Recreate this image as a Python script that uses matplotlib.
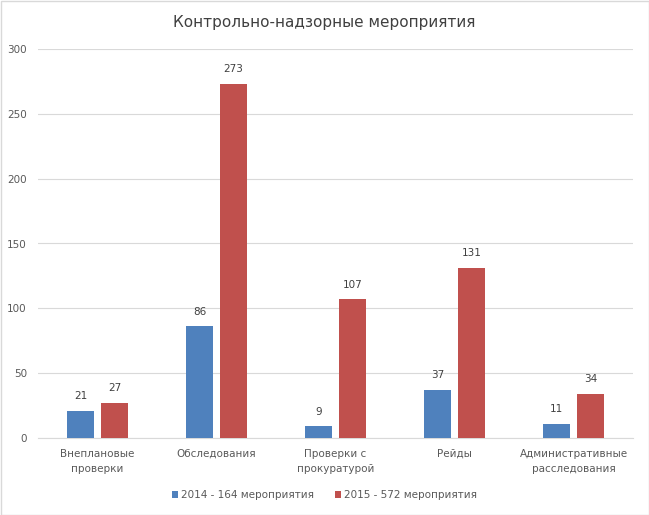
import numpy as np
import matplotlib.pyplot as plt
from matplotlib.patches import Rectangle

categories = ['Внеплановые\nпроверки', 'Обследования', 'Проверки с\nпрокуратурой',
              'Рейды', 'Административные\nрасследования']
values_2014 = [21, 86, 9, 37, 11]
values_2015 = [27, 273, 107, 131, 34]
label_2014 = '2014 - 164 мероприятия'
label_2015 = '2015 - 572 мероприятия'
title = 'Контрольно-надзорные мероприятия'

blue = '#4F81BD'
red = '#C0504D'
txt = '#595959'

plt.rcParams['font.family'] = ['DejaVu Sans']
fig = plt.figure(figsize=(6.49, 5.15), dpi=100)
ax = fig.add_axes([38 / 649, 1 - 438 / 515, 595 / 649, 389 / 515])

x = np.arange(len(categories))
w = 0.227
off = w / 2 + 0.03
b1 = ax.bar(x - off, values_2014, w, color=blue, label=label_2014, zorder=3)
b2 = ax.bar(x + off, values_2015, w, color=red, label=label_2015, zorder=3)

for bars in (b1, b2):
    for r in bars:
        ax.annotate(str(int(r.get_height())), (r.get_x() + r.get_width() / 2, r.get_height()),
                    xytext=(0, 7), textcoords='offset points', ha='center', va='bottom',
                    fontsize=7.5, color='#404040')

ax.set_xlim(-0.5, len(categories) - 0.5)
ax.set_ylim(0, 300)
ax.set_yticks(range(0, 301, 50))
ax.yaxis.grid(True, color='#D9D9D9', linewidth=0.8, zorder=0)
ax.set_xticks(x)
ax.set_xticklabels(categories, fontsize=7.5, color=txt, linespacing=1.6)
ax.tick_params(axis='y', labelsize=7.5, labelcolor=txt, length=0, pad=8)
ax.tick_params(axis='x', length=0, pad=8)
for s in ['top', 'right', 'left']:
    ax.spines[s].set_visible(False)
ax.spines['bottom'].set_color('#D9D9D9')

fig.text(0.5, 1 - 22 / 515, title, ha='center', va='center', fontsize=11,
         color='#404040', fontweight='medium')
fig.legend(loc='center', bbox_to_anchor=(0.5, 1 - 495 / 515), ncol=2, frameon=False,
           fontsize=7.5, handlelength=0.6, handleheight=0.6, columnspacing=2.0,
           handletextpad=0.3, labelcolor=txt)

fig.patches.append(Rectangle((0.5 / 649, 0.5 / 515), 1 - 1 / 649, 1 - 1 / 515,
                             transform=fig.transFigure, fill=False,
                             edgecolor='#D9D9D9', linewidth=1))

fig.savefig('out.png', dpi=100)
